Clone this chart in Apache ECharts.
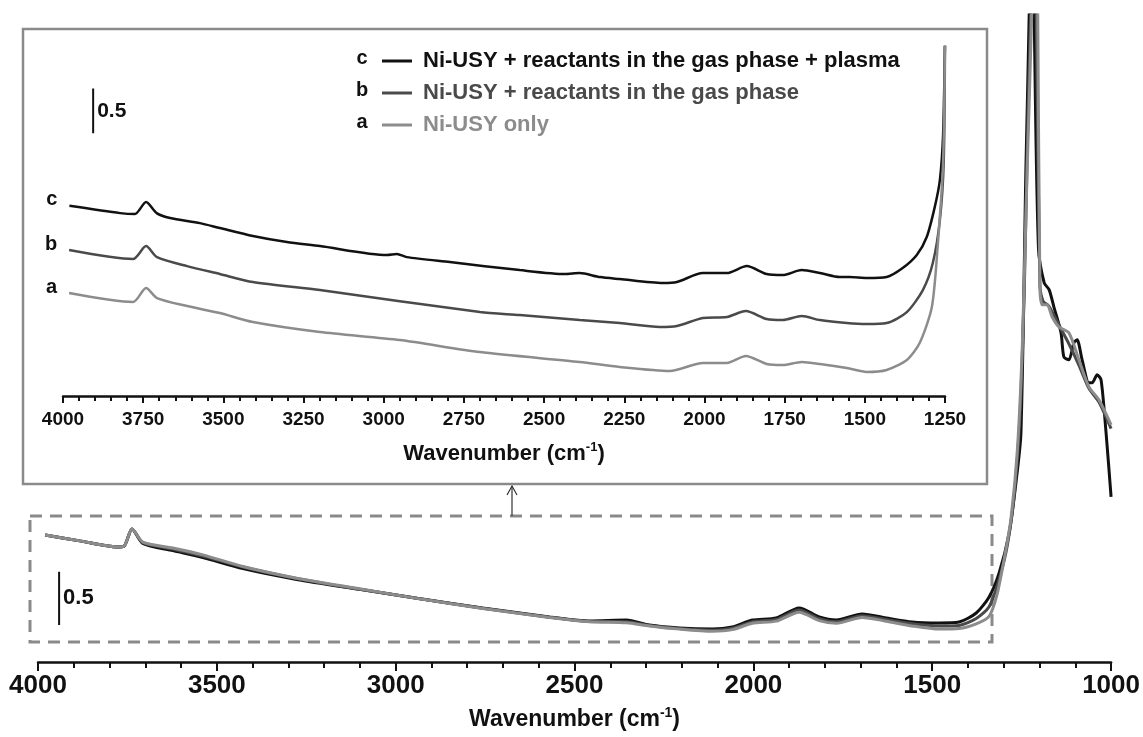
<!DOCTYPE html>
<html>
<head>
<meta charset="utf-8">
<script src="https://cdn.jsdelivr.net/npm/echarts@6/dist/echarts.min.js"></script>
<style>
html, body { margin: 0; padding: 0; background: #fff; }
#chart { width: 1143px; height: 737px; }
</style>
</head>
<body>
<div id="chart"></div>
<script>
// 名称
const nameC = 'Ni-USY + reactants in the gas phase + plasma'
const nameB = 'Ni-USY + reactants in the gas phase'
const nameA = 'Ni-USY only'

// 主图 [波数, 吸光度]
const mainC = [
    [3980, 1.198], [3883, 1.142], [3779, 1.085], [3760, 1.09], [3737, 1.255], [3707, 1.118],
    [3623, 1.05], [3539, 0.985], [3427, 0.88], [3277, 0.778], [3101, 0.685], [2941, 0.602],
    [2757, 0.509], [2570, 0.425], [2458, 0.387], [2355, 0.396], [2291, 0.349], [2207, 0.321],
    [2115, 0.311], [2059, 0.33], [2003, 0.396], [1936, 0.415], [1872, 0.509], [1816, 0.425],
    [1768, 0.396], [1696, 0.453], [1629, 0.415], [1556, 0.377], [1481, 0.368], [1425, 0.377],
    [1377, 0.462], [1341, 0.613], [1313, 0.84], [1285, 1.217], [1266, 1.689], [1252, 2.16],
    [1238, 4.67], [1229, 6.1], [1222, 8.0], [1215, 6.1], [1203, 3.9], [1187, 3.575],
    [1173, 3.509], [1160, 3.349], [1140, 3.104], [1132, 2.877], [1118, 2.849], [1104, 3.009],
    [1095, 3.038], [1081, 2.849], [1062, 2.632], [1053, 2.632], [1039, 2.708], [1028, 2.66],
    [1014, 2.16], [1000, 1.557]
]
const mainB = [
    [3980, 1.198], [3883, 1.142], [3779, 1.085], [3760, 1.09], [3737, 1.255], [3707, 1.125],
    [3623, 1.065], [3539, 1.0], [3427, 0.895], [3277, 0.787], [3101, 0.685], [2941, 0.602],
    [2757, 0.507], [2570, 0.422], [2458, 0.383], [2355, 0.38], [2291, 0.345], [2207, 0.315],
    [2115, 0.3], [2059, 0.318], [2003, 0.38], [1936, 0.4], [1872, 0.49], [1816, 0.408],
    [1768, 0.38], [1696, 0.437], [1629, 0.4], [1556, 0.36], [1481, 0.34], [1425, 0.345],
    [1377, 0.41], [1341, 0.52], [1313, 0.78], [1290, 1.1], [1270, 1.6], [1255, 2.3],
    [1242, 3.6], [1232, 5.2], [1225, 6.1], [1216, 8.0], [1209, 6.1], [1199, 3.56],
    [1190, 3.4], [1175, 3.36], [1160, 3.27], [1140, 3.14], [1118, 3.0], [1090, 2.8],
    [1062, 2.58], [1034, 2.45], [1000, 2.2]
]
const mainA = [
    [3980, 1.198], [3883, 1.142], [3779, 1.085], [3760, 1.09], [3737, 1.255], [3707, 1.13],
    [3623, 1.075], [3539, 1.01], [3427, 0.9], [3277, 0.79], [3101, 0.69], [2941, 0.6],
    [2757, 0.505], [2570, 0.42], [2458, 0.38], [2355, 0.37], [2291, 0.34], [2207, 0.31],
    [2115, 0.29], [2059, 0.305], [2003, 0.365], [1936, 0.385], [1872, 0.47], [1816, 0.39],
    [1768, 0.365], [1696, 0.42], [1629, 0.385], [1556, 0.34], [1481, 0.31], [1425, 0.315],
    [1377, 0.36], [1341, 0.43], [1320, 0.62], [1300, 0.95], [1280, 1.35], [1262, 2.0],
    [1248, 3.0], [1235, 4.6], [1222, 6.1], [1212, 8.0], [1205, 6.1], [1199, 3.54],
    [1193, 3.368], [1179, 3.368], [1165, 3.255], [1146, 3.16], [1118, 3.104], [1090, 2.849],
    [1062, 2.594], [1034, 2.472], [1000, 2.236]
]

// 插图（偏移后）
const insetC = [
    [3980, 2.114], [3822, 2.033], [3776, 2.022], [3741, 2.156], [3708, 2.033], [3666, 1.978],
    [3573, 1.922], [3511, 1.867], [3408, 1.778], [3302, 1.711], [3199, 1.667], [2990, 1.567],
    [2959, 1.578], [2928, 1.544], [2794, 1.489], [2576, 1.4], [2435, 1.356], [2389, 1.367],
    [2326, 1.322], [2264, 1.3], [2130, 1.256], [2086, 1.267], [2005, 1.367], [1930, 1.367],
    [1868, 1.444], [1806, 1.356], [1756, 1.344], [1697, 1.4], [1640, 1.367], [1578, 1.322],
    [1547, 1.322], [1494, 1.311], [1432, 1.322], [1382, 1.422], [1338, 1.567], [1307, 1.767],
    [1282, 2.1], [1266, 2.4], [1256, 2.9], [1250, 3.95]
]
const insetB = [
    [3981, 1.622], [3782, 1.522], [3741, 1.667], [3707, 1.544], [3613, 1.444], [3511, 1.356],
    [3408, 1.267], [3199, 1.178], [2700, 0.933], [2576, 0.9], [2389, 0.844], [2264, 0.811],
    [2139, 0.767], [2086, 0.778], [2005, 0.867], [1930, 0.878], [1871, 0.944], [1806, 0.856],
    [1756, 0.844], [1697, 0.889], [1640, 0.844], [1556, 0.811], [1494, 0.8], [1432, 0.811],
    [1369, 0.933], [1319, 1.178], [1288, 1.478], [1266, 1.956], [1254, 2.6], [1250, 3.95]
]
const insetA = [
    [3981, 1.144], [3782, 1.044], [3741, 1.2], [3707, 1.089], [3613, 1.0], [3511, 0.922],
    [3408, 0.822], [3199, 0.711], [2950, 0.622], [2700, 0.489], [2389, 0.378], [2264, 0.322],
    [2108, 0.278], [2005, 0.367], [1930, 0.367], [1871, 0.444], [1806, 0.356], [1756, 0.344],
    [1697, 0.378], [1640, 0.356], [1556, 0.311], [1494, 0.267], [1432, 0.289], [1369, 0.4],
    [1329, 0.589], [1291, 0.989], [1273, 1.656], [1256, 2.6], [1250, 3.95]
]

// 标尺 0.5
const mainScaleBar = [[3941, 0.35], [3941, 0.6], [3941, 0.85]]
const insetScaleBar = [[3906, 2.92], [3906, 3.17], [3906, 3.42]]

const colorC = '#111111'
const colorB = '#4a4a4a'
const colorA = '#8c8c8c'
const font = '"Liberation Sans", Arial, sans-serif'

function lineSeries(name, data, color, width, axis, z) {
    return {
        name,
        type: 'line',
        xAxisIndex: axis,
        yAxisIndex: axis,
        data,
        showSymbol: false,
        smooth: 0.25,
        lineStyle: { color, width },
        itemStyle: { color },
        z,
        silent: true,
    }
}

function curveTag(data, text) {
    // 插图曲线左侧字母
    const d = data.slice()
    d[0] = {
        value: data[0],
        symbolSize: 0,
        label: {
            show: true, formatter: text, position: 'left', distance: 12, offset: [0, -6],
            fontFamily: font, fontWeight: 'bold', fontSize: 20, color: '#111',
        },
    }
    return d
}

function scaleBar(data, axis, fontSize) {
    const d = data.map(v => v)
    d[1] = {
        value: data[1],
        label: {
            show: true, formatter: '0.5', position: 'right', distance: 4,
            fontFamily: font, fontWeight: 'bold', fontSize: fontSize, color: '#111',
        },
    }
    return {
        type: 'line',
        xAxisIndex: axis,
        yAxisIndex: axis,
        data: d,
        symbolSize: 0,
        label: { fontSize: fontSize, fontWeight: 'bold', fontFamily: font },
        lineStyle: { color: '#111', width: 2 },
        silent: true,
        z: 3,
    }
}

const plain = v => String(v)

const chart = echarts.init(document.getElementById('chart'))

const option = {
    backgroundColor: '#fff',
    animation: false,
    legend: {
        orient: 'vertical',
        left: 377,
        top: 45,
        icon: 'rect',
        itemWidth: 30,
        itemHeight: 3,
        itemGap: 10,
        selectedMode: false,
        textStyle: { fontFamily: font, fontWeight: 'bold', fontSize: 22, lineHeight: 22, padding: [0, 0, 0, 6] },
        data: [
            { name: nameC, textStyle: { color: colorC } },
            { name: nameB, textStyle: { color: colorB } },
            { name: nameA, textStyle: { color: colorA } },
        ],
    },
    grid: [
        { left: 38, right: 31, top: 15, bottom: 75 },
        { left: 63, right: 198, top: 47, bottom: 341 },
    ],
    xAxis: [
        {
            gridIndex: 0,
            type: 'value',
            inverse: true,
            min: 1000,
            max: 4000,
            interval: 500,
            axisLine: { lineStyle: { color: '#111', width: 2.5 } },
            axisTick: { length: 9, lineStyle: { color: '#111', width: 2 } },
            minorTick: { show: true, splitNumber: 5, length: 6, lineStyle: { color: '#111', width: 2 } },
            splitLine: { show: false },
            axisLabel: { margin: 11, formatter: plain, fontFamily: font, fontWeight: 'bold', fontSize: 26, color: '#111' },
            name: '{t|Wavenumber (cm}{s|-1}{t|)}',
            nameLocation: 'middle',
            nameGap: 44,
            nameTextStyle: {
                rich: {
                    t: { fontFamily: font, fontWeight: 'bold', fontSize: 23, color: '#111', lineHeight: 27 },
                    s: { fontFamily: font, fontWeight: 'bold', fontSize: 14, color: '#111', verticalAlign: 'top', lineHeight: 27 },
                },
            },
        },
        {
            gridIndex: 1,
            type: 'value',
            inverse: true,
            min: 1250,
            max: 4000,
            interval: 250,
            axisLine: { lineStyle: { color: '#111', width: 2.5 } },
            axisTick: { length: 7, lineStyle: { color: '#111', width: 2 } },
            minorTick: { show: true, splitNumber: 5, length: 5, lineStyle: { color: '#111', width: 2 } },
            splitLine: { show: false },
            axisLabel: { margin: 14, formatter: plain, fontFamily: font, fontWeight: 'bold', fontSize: 19, color: '#111' },
            name: '{t|Wavenumber (cm}{s|-1}{t|)}',
            nameLocation: 'middle',
            nameGap: 45,
            nameTextStyle: {
                rich: {
                    t: { fontFamily: font, fontWeight: 'bold', fontSize: 22, color: '#111', lineHeight: 26 },
                    s: { fontFamily: font, fontWeight: 'bold', fontSize: 13, color: '#111', verticalAlign: 'top', lineHeight: 26 },
                },
            },
        },
    ],
    yAxis: [
        { gridIndex: 0, type: 'value', min: 0, max: 6.1, show: false },
        { gridIndex: 1, type: 'value', min: 0, max: 3.88, show: false },
    ],
    graphic: [
        // 插图边框
        { type: 'rect', shape: { x: 23, y: 29, width: 964, height: 455 }, style: { fill: 'none', stroke: '#8a8a8a', lineWidth: 2.5 }, z: 0 },
        // 虚线框
        { type: 'rect', shape: { x: 30, y: 516, width: 962, height: 126 }, style: { fill: 'none', stroke: '#8a8a8a', lineWidth: 3, lineDash: [12, 8] }, z: 0 },
        // 箭头
        { type: 'line', shape: { x1: 512, y1: 516, x2: 512, y2: 486 }, style: { stroke: '#333', lineWidth: 1.2 }, z: 1 },
        { type: 'polyline', shape: { points: [[507, 495], [512, 486], [517, 495]] }, style: { fill: 'none', stroke: '#333', lineWidth: 1.2 }, z: 1 },
        // 图例字母
        { type: 'text', x: 362, y: 58, style: { text: 'c', fontFamily: font, fontWeight: 'bold', fontSize: 20, fill: '#111', align: 'center', verticalAlign: 'middle' } },
        { type: 'text', x: 362, y: 90, style: { text: 'b', fontFamily: font, fontWeight: 'bold', fontSize: 20, fill: '#111', align: 'center', verticalAlign: 'middle' } },
        { type: 'text', x: 362, y: 122, style: { text: 'a', fontFamily: font, fontWeight: 'bold', fontSize: 20, fill: '#111', align: 'center', verticalAlign: 'middle' } },
    ],
    series: [
        lineSeries(nameC, mainC, colorC, 3, 0, 2),
        lineSeries(nameB, mainB, colorB, 3, 0, 3),
        lineSeries(nameA, mainA, colorA, 3, 0, 4),
        lineSeries(nameC, curveTag(insetC, 'c'), colorC, 2.5, 1, 2),
        lineSeries(nameB, curveTag(insetB, 'b'), colorB, 2.5, 1, 2),
        lineSeries(nameA, curveTag(insetA, 'a'), colorA, 2.5, 1, 2),
        scaleBar(mainScaleBar, 0, 22),
        scaleBar(insetScaleBar, 1, 21),
    ],
}

// 插图曲线标签需要显示首点
option.series.slice(3, 6).forEach(s => { s.showSymbol = true; s.symbolSize = 0 })

chart.setOption(option)
</script>
</body>
</html>
